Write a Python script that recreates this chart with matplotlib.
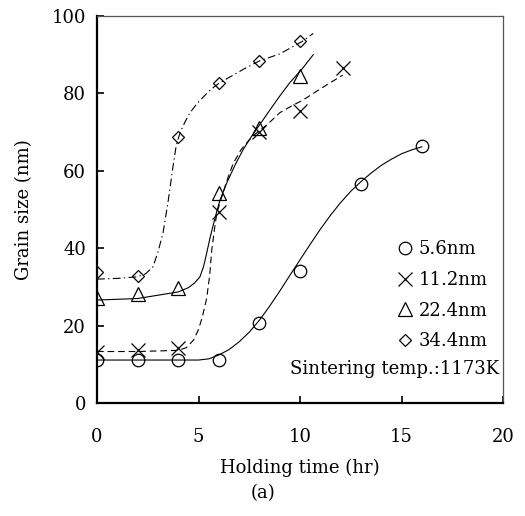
import matplotlib
matplotlib.use('Agg')
import matplotlib.pyplot as plt

plt.rcParams['font.family'] = 'DejaVu Serif'

# measured points (markers)
t_56 = [0, 2, 4, 6, 8, 10, 13, 16]
d_56 = [11.1, 11.2, 11.0, 11.2, 20.8, 34.2, 56.5, 66.3]
t_112 = [0, 2, 4, 6, 8, 10, 12.1]
d_112 = [13.3, 13.8, 14.2, 49.4, 70.0, 75.5, 86.5]
t_224 = [0, 2, 4, 6, 8, 10]
d_224 = [27.1, 28.2, 29.6, 54.3, 71.0, 84.5]
t_344 = [0, 2, 4, 6, 8, 10]
d_344 = [33.9, 32.8, 68.8, 82.6, 88.3, 93.5]

# guide curves
ct_56 = [0, 2, 4, 5, 5.5, 6, 6.5, 7, 7.5, 8, 8.5, 9, 9.5, 10, 10.5, 11, 11.5, 12, 12.5, 13, 13.5, 14, 14.5, 15, 15.5, 16]
cd_56 = [11.1, 11.1, 11.1, 11.1, 11.4, 12.4, 13.8, 15.8, 18.3, 21.4, 25.0, 28.9, 33.0, 37.0, 41.0, 44.9, 48.5, 51.8, 54.7, 57.2, 59.4, 61.4, 63.0, 64.4, 65.4, 66.2]
ct_112 = [0, 2, 4, 4.4, 4.76, 5.0, 5.2, 5.4, 5.55, 5.65, 5.8, 5.9, 6.1, 6.4, 6.7, 7.1, 7.5, 7.9, 8.4, 9.0, 9.6, 10.15, 10.8, 11.5, 12.1]
cd_112 = [13.3, 13.3, 13.6, 14.3, 16.3, 19.0, 22.5, 27.0, 33.0, 39.5, 45.5, 49.0, 52.5, 57.5, 61.8, 65.5, 68.0, 70.0, 72.0, 75.0, 76.8, 78.3, 80.5, 82.8, 84.7]
ct_224 = [0, 2, 4, 4.5, 4.8, 5.07, 5.25, 5.4, 5.55, 5.7, 5.9, 6.06, 6.4, 6.8, 7.2, 7.6, 8.0, 8.5, 9.0, 9.5, 10.1, 10.65]
cd_224 = [26.6, 27.0, 28.7, 29.8, 31.0, 32.6, 35.3, 38.7, 42.3, 45.5, 49.5, 52.5, 57.0, 61.5, 65.5, 68.8, 71.8, 75.6, 79.3, 82.8, 86.3, 90.0]
ct_344 = [0, 1, 1.97, 2.4, 2.76, 3.0, 3.25, 3.5, 3.74, 3.9, 4.1, 4.35, 4.58, 4.9, 5.22, 5.6, 6.0, 6.7, 7.3, 8.0, 9.0, 10.1, 10.65]
cd_344 = [32.0, 32.2, 32.6, 33.4, 35.2, 39.0, 43.9, 52.0, 61.0, 66.5, 70.0, 72.8, 75.0, 77.2, 79.0, 81.0, 82.6, 84.7, 86.5, 88.4, 90.2, 93.4, 95.5]

labels = ['5.6nm', '11.2nm', '22.4nm', '34.4nm']

fig = plt.figure(figsize=(5.25, 5.16), dpi=100)
ax = fig.add_axes([0.1848, 0.219, 0.7734, 0.750])

lw = 0.8
ax.plot(ct_56, cd_56, color='black', lw=lw, ls='-')
ax.plot(ct_112, cd_112, color='black', lw=lw, ls=(0, (6, 3.5)))
ax.plot(ct_224, cd_224, color='black', lw=lw, ls='-')
ax.plot(ct_344, cd_344, color='black', lw=lw, ls=(0, (7, 3, 1.2, 3)))

mk = dict(ls='none', mfc='white', mec='black', mew=0.9, color='black')
h1, = ax.plot(t_56, d_56, marker='o', ms=9, **mk)
h2, = ax.plot(t_112, d_112, marker='x', ms=10, **mk)
h3, = ax.plot(t_224, d_224, marker='^', ms=10.5, **mk)
h4, = ax.plot(t_344, d_344, marker='D', ms=6.5, **mk)
for h in (h1, h3, h4):
    h.set_mfc('none')

ax.set_xlim(0, 20)
ax.set_ylim(0, 100)
ax.set_xticks([0, 5, 10, 15, 20])
ax.set_yticks([0, 20, 40, 60, 80, 100])
ax.tick_params(direction='in', length=5, width=1.2, labelsize=13, top=False, right=False)
ax.tick_params(axis='x', pad=18)
ax.tick_params(axis='y', pad=8)
ax.spines['left'].set_linewidth(1.6)
ax.spines['bottom'].set_linewidth(1.6)
for s in ('top', 'right'):
    ax.spines[s].set_linewidth(0.9)
    ax.spines[s].set_color('#555555')

ax.set_xlabel('Holding time (hr)', fontsize=13, labelpad=9)
ax.set_ylabel('Grain size (nm)', fontsize=13, labelpad=13)

ax.legend([h1, h2, h3, h4], labels, loc='lower right', bbox_to_anchor=(0.985, 0.113),
          frameon=False, fontsize=13, handlelength=0.9, handletextpad=0.3,
          labelspacing=0.7, borderpad=0)
ax.text(0.99, 0.065, 'Sintering temp.:1173K', transform=ax.transAxes,
        ha='right', va='bottom', fontsize=13)

fig.text(0.5, 0.045, '(a)', fontsize=13, ha='center', va='center')

fig.savefig('out.png', dpi=100)
